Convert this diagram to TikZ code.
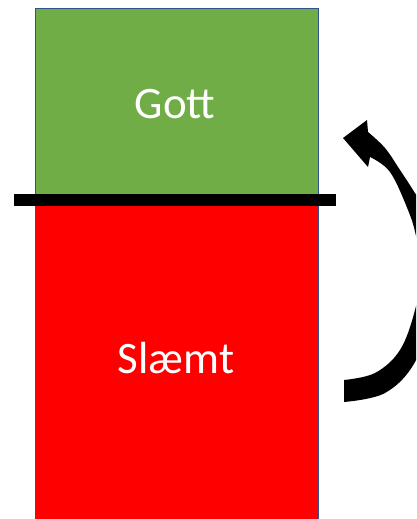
\documentclass[tikz,border=0pt]{standalone}
\usepackage{fontspec}
\setmainfont{Carlito}
\definecolor{goodgreen}{HTML}{70AD47}
\definecolor{badred}{HTML}{FF0000}
\definecolor{edgeblue}{HTML}{2F528F}
\tikzset{
  block/.style={draw=edgeblue, line width=1pt},
  label/.style={text=white, font=\fontsize{45}{45}\selectfont, anchor=base, inner sep=0pt},
}
\begin{document}
\begin{tikzpicture}[x=1pt,y=-1pt]
\useasboundingbox (0,0) rectangle (416,519);
\clip (0,0) rectangle (416,519);
% blocks
\path[block, fill=goodgreen] (35,9) rectangle (318,200);
\path[block, fill=badred] (35,200) rectangle (318,540);
\node[label] (gott) at (175,118) {Gott};
\node[label] (slaemt) at (176,373) {Slæmt};
% bar
\fill (14,194) rectangle (336,206);
% curved arrow
\fill
  plot[smooth, tension=0.6] coordinates {(344,402) (385,393) (415,362) (434,305) (437,260) (428,215) (413,190) (400,170) (385,148) (368,132)}
  -- (367,120) -- (343,138) -- (368,167) -- (370,157)
  -- plot[smooth, tension=0.6] coordinates {(370,157) (390,172) (408,210) (416,236) (421,270) (415,310) (400,350) (375,373) (344,380)}
  -- cycle;
\end{tikzpicture}
\end{document}
